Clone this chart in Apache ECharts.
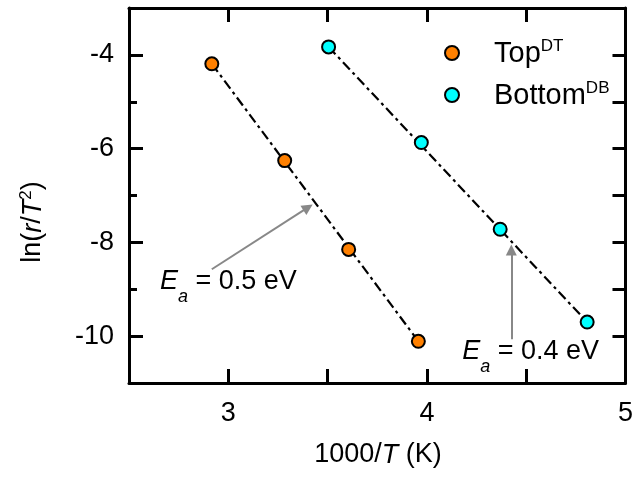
<!DOCTYPE html>
<html>
<head>
<meta charset="utf-8">
<script src="https://cdn.jsdelivr.net/npm/echarts@6/dist/echarts.min.js"></script>
<style>html,body{margin:0;padding:0;background:#fff;}#c{width:636px;height:479px;}</style>
</head>
<body>
<div id="c"></div>
<script>
// Data
const topX = [2.917, 3.284, 3.606, 3.957];
const topY = [-4.19, -6.255, -8.15, -10.11];
const botX = [3.505, 3.972, 4.369, 4.807];
const botY = [-3.83, -5.87, -7.72, -9.70];
// Fit line end points
const topFitX = [2.917, 3.957];
const topFitY = [-4.19, -10.11];
const botFitX = [3.505, 4.807];
const botFitY = [-3.83, -9.70];
// Tick labels
const xTickLabels = [3, 4, 5];
const yTickLabels = [-10, -8, -6, -4];
// Annotations (data coordinates)
const arrow1 = [[2.917, -8.574], [3.4015, -7.255]];
const arrow2 = [[4.425, -10.064], [4.425, -8.16]];
const label1 = {x: 2.656, y: -8.85, text: '0.5'};
const label2 = {x: 4.178, y: -10.35, text: '0.4'};

const FONT = "'Liberation Sans', Arial, sans-serif";
const FS = 27;
const pairs = (xs, ys) => xs.map((x, i) => [x, ys[i]]);

const chart = echarts.init(document.getElementById('c'), null, {renderer: 'canvas'});

const axisCommon = {
  type: 'value',
  axisLine: {show: true, lineStyle: {color: '#000', width: 3}},
  splitLine: {show: false}
};

const option = {
  animation: false,
  backgroundColor: '#fff',
  grid: {left: 129, right: 10, top: 8, bottom: 96},
  xAxis: [
    Object.assign({}, axisCommon, {
      min: 2.5, max: 5, interval: 0.5, position: 'bottom',
      axisTick: {inside: true, length: 14, lineStyle: {color: '#000', width: 3}},
      axisLabel: {
        color: '#000', fontSize: FS, fontFamily: FONT, margin: 17,
        formatter: v => (xTickLabels.indexOf(Math.round(v * 10) / 10) >= 0 ? String(v) : '')
      }
    }),
    Object.assign({}, axisCommon, {
      min: 2.5, max: 5, interval: 0.5, position: 'top',
      axisTick: {inside: true, length: 14, lineStyle: {color: '#000', width: 3}},
      axisLabel: {show: false}
    })
  ],
  yAxis: [
    Object.assign({}, axisCommon, {
      min: -11, max: -3, position: 'left',
      axisTick: {inside: true, length: 14, customValues: yTickLabels, lineStyle: {color: '#000', width: 3}},
      axisLabel: {customValues: yTickLabels, color: '#000', fontSize: FS, fontFamily: FONT, margin: 15}
    }),
    Object.assign({}, axisCommon, {
      min: -11, max: -3, interval: 1, position: 'left',
      axisLine: {show: false},
      axisTick: {inside: true, length: 8, lineStyle: {color: '#000', width: 3}},
      axisLabel: {show: false}
    }),
    Object.assign({}, axisCommon, {
      min: -11, max: -3, interval: 1, position: 'right',
      axisTick: {inside: true, length: 13, lineStyle: {color: '#000', width: 3}},
      axisLabel: {show: false}
    })
  ],
  legend: {
    orient: 'vertical',
    left: 439, top: 33,
    itemWidth: 74, itemHeight: 14, itemGap: 9,
    data: ['TopDT', 'BottomDB'],
    formatter: name => name === 'TopDT' ? '{m|Top}{s|DT}' : '{m|Bottom}{s|DB}',
    textStyle: {
      color: '#000', fontFamily: FONT,
      rich: {
        m: {fontSize: 29, fontFamily: FONT, color: '#000', lineHeight: 30, verticalAlign: 'bottom'},
        s: {fontSize: 17, fontFamily: FONT, color: '#000', lineHeight: 17, verticalAlign: 'top', padding: [0, 0, 16, 0]}
      }
    }
  },
  series: [
    {
      name: 'topFit', type: 'line', data: pairs(topFitX, topFitY), symbol: 'none', z: 2,
      lineStyle: {color: '#000', width: 2.2, type: [10, 4, 3, 4]}
    },
    {
      name: 'botFit', type: 'line', data: pairs(botFitX, botFitY), symbol: 'none', z: 2,
      lineStyle: {color: '#000', width: 2.2, type: [10, 4, 3, 4]}
    },
    {
      name: 'TopDT', type: 'scatter', data: pairs(topX, topY), symbol: 'circle', symbolSize: 13, z: 5,
      itemStyle: {color: '#FF8000', borderColor: '#000', borderWidth: 2, opacity: 1},
      markLine: {
        silent: true, symbol: ['none', 'triangle'], symbolSize: [11, 11],
        label: {show: false},
        lineStyle: {color: '#888', width: 2, type: 'solid'},
        data: [[{coord: arrow1[0]}, {coord: arrow1[1]}]]
      }
    },
    {
      name: 'BottomDB', type: 'scatter', data: pairs(botX, botY), symbol: 'circle', symbolSize: 13, z: 5,
      itemStyle: {color: '#00FFFF', borderColor: '#000', borderWidth: 2, opacity: 1},
      markLine: {
        silent: true, symbol: ['none', 'triangle'], symbolSize: [11, 11],
        label: {show: false},
        lineStyle: {color: '#888', width: 2, type: 'solid'},
        data: [[{coord: arrow2[0]}, {coord: arrow2[1]}]]
      }
    }
  ]
};
chart.setOption(option);

const richAnn = {
  i: {fontSize: FS, fontFamily: FONT, fontStyle: 'italic', fill: '#000', lineHeight: 29, verticalAlign: 'top'},
  sub: {fontSize: 18, fontFamily: FONT, fontStyle: 'italic', fill: '#000', lineHeight: 18, padding: [20, 0, 0, 0], verticalAlign: 'top'},
  n: {fontSize: FS, fontFamily: FONT, fill: '#000', lineHeight: 29, verticalAlign: 'top'}
};
function annText(l) {
  const p = chart.convertToPixel({xAxisIndex: 0, yAxisIndex: 0}, [l.x, l.y]);
  return {
    type: 'text', x: p[0], y: p[1], z: 10,
    style: {
      text: '{i|E}{sub|a}{n| = ' + l.text + ' eV}',
      rich: richAnn, align: 'left', verticalAlign: 'middle', font: FS + 'px ' + FONT
    }
  };
}
chart.setOption({
  graphic: [
    annText(label1),
    annText(label2),
    {
      type: 'text', x: 378, y: 455, z: 10,
      style: {
        text: '{n|1000/}{i|T}{n| (K)}', align: 'center', verticalAlign: 'middle',
        rich: {
          n: {fontSize: FS, fontFamily: FONT, fill: '#000'},
          i: {fontSize: FS, fontFamily: FONT, fontStyle: 'italic', fill: '#000'}
        }
      }
    },
    {
      type: 'text', x: 32, y: 222, rotation: Math.PI / 2, z: 10,
      style: {
        text: '{n|ln(}{i|r}{n|/}{i|T}{s|2}{n|)}', align: 'center', verticalAlign: 'middle',
        rich: {
          n: {fontSize: FS, fontFamily: FONT, fill: '#000', lineHeight: 29, verticalAlign: 'bottom'},
          i: {fontSize: FS, fontFamily: FONT, fontStyle: 'italic', fill: '#000', lineHeight: 29, verticalAlign: 'bottom'},
          s: {fontSize: 17, fontFamily: FONT, fill: '#000', lineHeight: 17, verticalAlign: 'top', padding: [0, 0, 16, 0]}
        }
      }
    }
  ]
});
</script>
</body>
</html>
